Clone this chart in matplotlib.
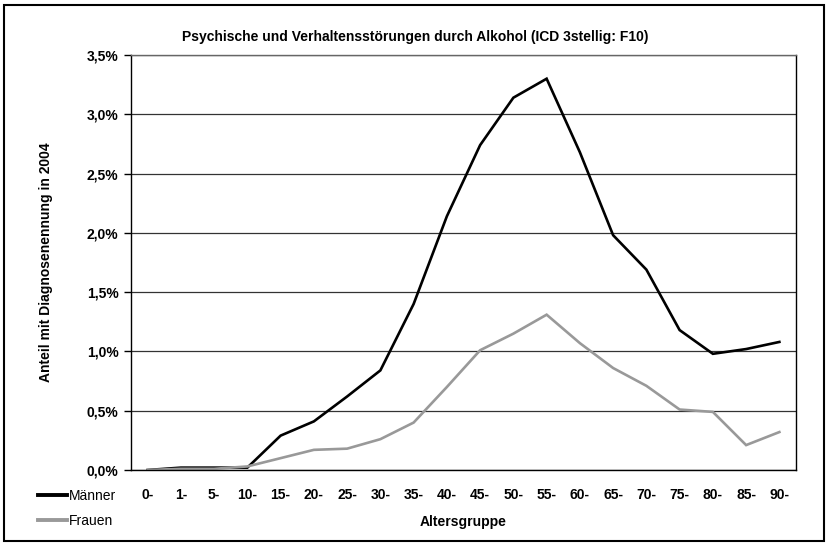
import matplotlib
matplotlib.use("Agg")
import matplotlib.pyplot as plt
from matplotlib.patches import Rectangle
from matplotlib.lines import Line2D
import numpy as np

plt.rcParams['font.family'] = ['Liberation Sans', 'DejaVu Sans']

# age groups
groups = ["0-", "1-", "5-", "10-", "15-", "20-", "25-", "30-", "35-", "40-",
          "45-", "50-", "55-", "60-", "65-", "70-", "75-", "80-", "85-", "90-"]
# share with diagnosis in 2004 (percent)
maenner = [0.00, 0.02, 0.02, 0.02, 0.29, 0.41, 0.62, 0.84, 1.40, 2.14,
           2.74, 3.14, 3.30, 2.68, 1.98, 1.69, 1.18, 0.98, 1.02, 1.08]
frauen = [0.00, 0.01, 0.01, 0.03, 0.10, 0.17, 0.18, 0.26, 0.40, 0.70,
          1.01, 1.15, 1.31, 1.07, 0.86, 0.71, 0.51, 0.49, 0.21, 0.32]
yticks = [0.0, 0.5, 1.0, 1.5, 2.0, 2.5, 3.0, 3.5]

W, H = 829, 546
fig = plt.figure(figsize=(W / 100, H / 100), dpi=100)
ax = fig.add_axes([131 / W, 1 - 470 / H, (796 - 131) / W, (470 - 55) / H])

x = np.arange(len(groups))
ax.plot(x, maenner, color="black", lw=1.9, solid_joinstyle="miter")
ax.plot(x, frauen, color="#999999", lw=1.9, solid_joinstyle="miter")

ax.set_xlim(-0.5, len(groups) - 0.5)
ax.set_ylim(0, 3.5)
ax.set_yticks(yticks)
ax.set_yticklabels([("%.1f%%" % v).replace(".", ",") for v in yticks],
                   fontsize=10, fontweight="bold")
ax.set_xticks(x)
ax.set_xticklabels(groups, fontsize=10, fontweight="bold")
ax.tick_params(axis="x", length=0, pad=13)
ax.tick_params(axis="y", length=5, width=1, pad=4)
ax.yaxis.grid(True, color="#333333", lw=0.9)
ax.set_axisbelow(True)
for s in ax.spines.values():
    s.set_linewidth(1.0)
ax.spines["top"].set_color("#666666")

ax.set_xlabel("Altersgruppe", fontsize=10, fontweight="bold", labelpad=9)
ax.set_ylabel("Anteil mit Diagnosenennung in 2004", fontsize=10,
              fontweight="bold", labelpad=24)
fig.text(415 / W, 1 - 37 / H,
         "Psychische und Verhaltensstörungen durch Alkohol (ICD 3stellig: F10)",
         ha="center", va="center", fontsize=10, fontweight="bold")

# legend bottom left
leg = fig.legend(handles=[Line2D([], [], color="black", lw=2.8),
                          Line2D([], [], color="#999999", lw=2.8)],
                 labels=["Männer", "Frauen"], loc="upper left",
                 bbox_to_anchor=(38 / W, 1 - 489 / H), frameon=False,
                 fontsize=10, handlelength=2.1, handletextpad=0.1,
                 labelspacing=0.8, borderaxespad=0, borderpad=0)

# outer frame
fig.patches.append(Rectangle((4 / W, 5 / H), (820) / W, (536) / H,
                             transform=fig.transFigure, fill=False,
                             edgecolor="black", lw=1.5))

fig.savefig("out.png", dpi=100)
